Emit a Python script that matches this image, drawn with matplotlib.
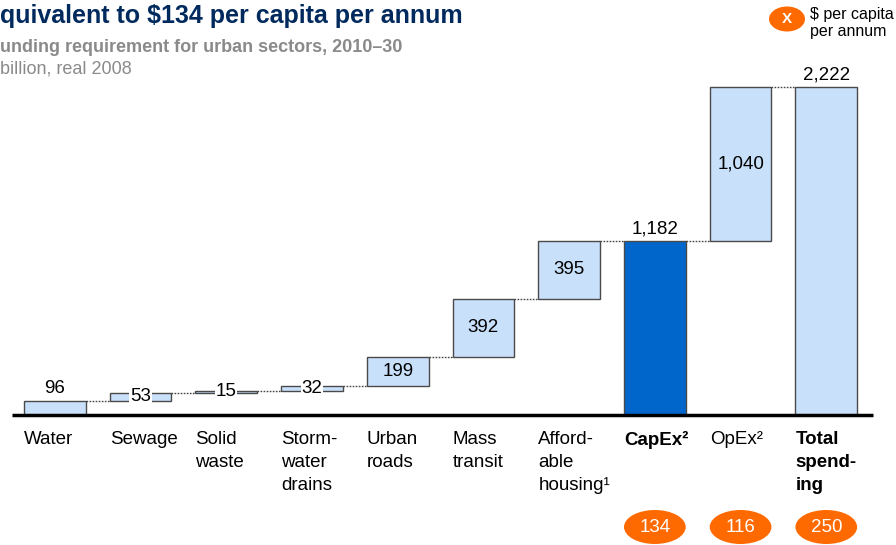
import matplotlib
matplotlib.use("Agg")
import matplotlib.pyplot as plt
from matplotlib.patches import Ellipse

plt.rcParams['font.family'] = ['Liberation Sans', 'DejaVu Sans']

categories = ['Water', 'Sewage', 'Solid\nwaste', 'Storm-\nwater\ndrains', 'Urban\nroads',
              'Mass\ntransit', 'Afford-\nable\nhousing¹', 'CapEx²', 'OpEx²', 'Total\nspend-\ning']
values = [96, 53, 15, 32, 199, 392, 395, 1182, 1040, 2222]
value_labels = ['96', '53', '15', '32', '199', '392', '395', '1,182', '1,040', '2,222']
kinds = ['step'] * 7 + ['sum', 'step', 'total']
bold_cats = ['CapEx²', 'Total\nspend-\ning']
per_capita_idx = [7, 8, 9]
per_capita = ['134', '116', '250']

W, H = 896, 545
fig = plt.figure(figsize=(W / 100, H / 100), dpi=100)
ax_h = 355
ax = fig.add_axes([12 / W, 130 / H, 861 / W, ax_h / H])
ax.set_xlim(-0.5, 9.545)
ax.set_ylim(0, 2405)
ax.axis('off')

light = '#C8E0FA'
dark = '#0066CC'
edge = '#4a4a4a'
bw = 0.72
fs = 13.5

bases = []
run = 0
for v, k in zip(values, kinds):
    if k == 'step':
        bases.append(run)
        run += v
    else:
        bases.append(0)
tops = [b + v for b, v in zip(bases, values)]

for i, (v, b, k) in enumerate(zip(values, bases, kinds)):
    color = dark if k == 'sum' else light
    ax.bar(i, v, bottom=b, width=bw, color=color, edgecolor=edge, linewidth=1.0, zorder=2)

for i in range(len(values) - 1):
    level = tops[i]
    ax.plot([i + bw / 2, i + 1 - bw / 2], [level, level], color='#444444',
            linestyle=(0, (1.2, 1.0)), linewidth=1.0, zorder=1)

ax.plot([-0.5, 9.545], [0, 0], color='black', linewidth=2.5, zorder=3, clip_on=False,
        solid_capstyle='butt')

for i, (v, b, k) in enumerate(zip(values, bases, kinds)):
    lab = value_labels[i]
    if i == 0 or k in ('sum', 'total'):
        ax.annotate(lab, (i, b + v), xytext=(0, 2.5), textcoords='offset points',
                    ha='center', va='bottom', fontsize=fs, color='black', zorder=4)
    elif v < 120:
        ax.text(i, b + v / 2, lab, ha='center', va='center', fontsize=fs, zorder=4,
                bbox=dict(facecolor='white', edgecolor='none', pad=0.5))
    else:
        ax.text(i, b + v / 2, lab, ha='center', va='center', fontsize=fs, zorder=4)

xt = ax.get_xaxis_transform()
for i, c in enumerate(categories):
    ax.text(i - bw / 2, -16 / ax_h, c, transform=xt, ha='left', va='top', fontsize=fs,
            linespacing=1.47, fontweight='bold' if c in bold_cats else 'normal',
            color='black', clip_on=False)

orange = '#FF6A00'
for idx, txt in zip(per_capita_idx, per_capita):
    e = Ellipse((idx, -112 / ax_h), width=0.72, height=34 / ax_h, transform=xt,
                facecolor=orange, edgecolor='none', clip_on=False, zorder=5)
    ax.add_patch(e)
    ax.text(idx, -112 / ax_h, txt, transform=xt, ha='center', va='center', fontsize=fs,
            color='white', zorder=6, clip_on=False)

le = Ellipse((787 / W, 1 - 19 / H), width=36 / W, height=25 / H, transform=fig.transFigure,
             facecolor=orange, edgecolor='none')
fig.patches.append(le)
fig.text(787 / W, 1 - 19 / H, 'X', ha='center', va='center', fontsize=11, fontweight='bold',
         color='white')
fig.text(810 / W, 1 - 7 / H, '$ per capita\nper annum', ha='left', va='top', fontsize=11.5,
         linespacing=1.2, color='black')

fig.text(0, 1 - 4 / H, 'quivalent to $134 per capita per annum', ha='left', va='top',
         fontsize=18, fontweight='bold', color='#002A5E')
fig.text(0, 1 - 39 / H, 'unding requirement for urban sectors, 2010–30', ha='left', va='top',
         fontsize=13, fontweight='bold', color='#8A8A8A')
fig.text(0, 1 - 60 / H, 'billion, real 2008', ha='left', va='top', fontsize=13,
         color='#8A8A8A')

fig.savefig('out.png', dpi=100)
